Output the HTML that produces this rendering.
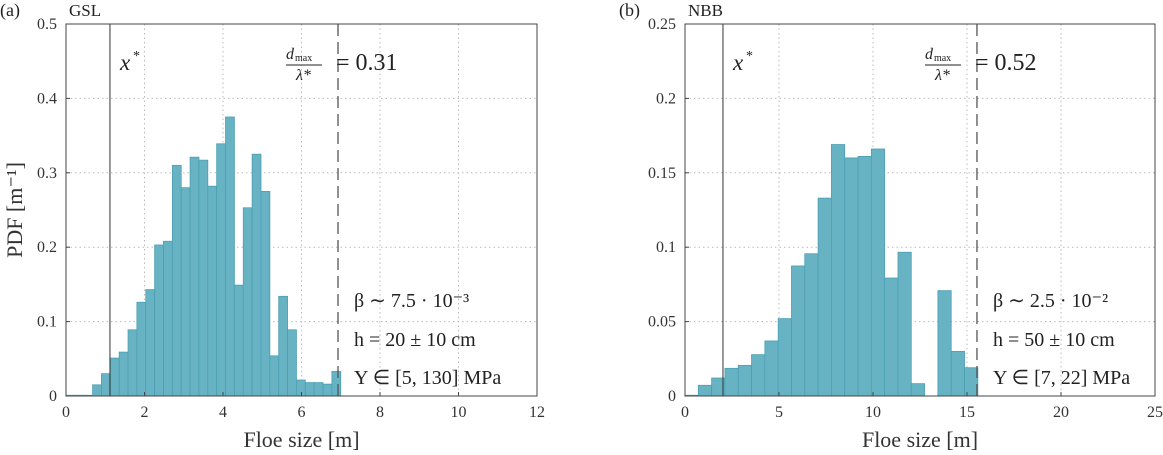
<!DOCTYPE html>
<html><head><meta charset="utf-8"><style>
body{margin:0;background:#fff;}
svg{display:block;font-family:"Liberation Serif",serif;}
</style></head><body>
<svg id="fig" width="1163" height="455"></svg>
<script>
const gslBins = 31;
const gslMax = 7.0;
const gslValues = [0.001,0.001,0.001,0.015,0.030,0.051,0.059,0.089,0.126,0.143,0.203,0.208,0.310,0.280,0.321,0.317,0.282,0.339,0.375,0.149,0.253,0.325,0.275,0.054,0.134,0.089,0.0215,0.018,0.018,0.016,0.033];
const gslXTicks = [0,2,4,6,8,10,12];
const gslYTicks = [0,0.1,0.2,0.3,0.4,0.5];
const nbbBinWidth = 0.708;
const nbbValues = [0.0005,0.0072,0.0121,0.0186,0.0206,0.0278,0.037,0.052,0.0874,0.0956,0.133,0.169,0.160,0.161,0.166,0.0793,0.0966,0.0083,0,0.0708,0.030,0.019];
const nbbXTicks = [0,5,10,15,20,25];
const nbbYTicks = [0,0.05,0.1,0.15,0.2,0.25];
const NS="http://www.w3.org/2000/svg";
const svg=document.getElementById('fig');
function el(tag,attrs,parent,text){const e=document.createElementNS(NS,tag);for(const k in attrs)e.setAttribute(k,attrs[k]);if(text!==undefined)e.textContent=text;(parent||svg).appendChild(e);return e;}
function panel(o){
  const g=el('g',{});
  
  
  const X=v=>o.x0+(v-o.xmin)/(o.xmax-o.xmin)*(o.x1-o.x0);
  const Y=v=>o.y0-(v/o.ymax)*(o.y0-o.y1);
  o.xt.forEach(t=>{if(t>o.xmin&&t<o.xmax){const l=el('line',{x1:X(t),x2:X(t),y1:o.y1,y2:o.y0,stroke:'#bbb','stroke-dasharray':'1.5 3'},g);}});
  o.yt.forEach(t=>{if(t>0&&t<o.ymax){const l=el('line',{x1:o.x0,x2:o.x1,y1:Y(t),y2:Y(t),stroke:'#bbb','stroke-dasharray':'1.5 3'},g);}});
  o.vals.forEach((v,i)=>{const a=X(i*o.bw),b=X((i+1)*o.bw);
    const r=el('rect',{x:a,y:Y(v),width:b-a,height:Y(0)-Y(v),fill:'#67b3c3',stroke:'#4b9fb3','stroke-width':0.8},g);
    });
  const xs=el('line',{x1:X(o.xstar),x2:X(o.xstar),y1:o.y1,y2:o.y0,stroke:'#333','stroke-width':1},g);
  
  const dm=el('line',{x1:X(o.dmax),x2:X(o.dmax),y1:o.y1,y2:o.y0,stroke:'#555','stroke-width':1.3,'stroke-dasharray':'12 6'},g);
  
  const bx=el('rect',{x:o.x0,y:o.y1,width:o.x1-o.x0,height:o.y0-o.y1,fill:'none',stroke:'#444','stroke-width':1},g);
  
  o.xt.forEach(t=>{el('line',{x1:X(t),x2:X(t),y1:o.y0,y2:o.y0-4,stroke:'#444'},g);
    const tx=el('text',{x:X(t),y:o.y0+21,'text-anchor':'middle','font-size':16,fill:'#333'},g,String(t));
    });
  o.yt.forEach(t=>{el('line',{x1:o.x0,x2:o.x0+4,y1:Y(t),y2:Y(t),stroke:'#444'},g);
    const tx=el('text',{x:o.x0-9,y:Y(t)+5,'text-anchor':'end','font-size':16,fill:'#333'},g,String(t));
    });
  const xl=el('text',{x:(o.x0+o.x1)/2,y:447,'text-anchor':'middle','font-size':22,fill:'#333'},g,'Floe size [m]');
  
  const pl=el('text',{x:o.x0-66,y:16,'font-size':18,fill:'#222'},g,o.letter);
  
  const sl=el('text',{x:o.x0+3,y:16,'font-size':17,fill:'#222'},g,o.site);
  
  const xsl=el('text',{x:X(o.xstar)+10,y:70,'font-size':23,'font-style':'italic',fill:'#222'},g,'x');
  
  el('text',{x:X(o.xstar)+23,y:60,'font-size':14,fill:'#222'},g,'*');
  const fx=X(o.dmax)-52;
  const fr=el('g',{},g);
  el('text',{x:fx,y:59,'font-size':16,'font-style':'italic',fill:'#222'},fr,'d');
  el('text',{x:fx+9,y:61,'font-size':10,fill:'#222'},fr,'max');
  el('line',{x1:fx,x2:fx+36,y1:65,y2:65,stroke:'#222'},fr);
  el('text',{x:fx+10,y:80,'font-size':16,'font-style':'italic',fill:'#222'},fr,'λ*');
  el('text',{x:fx+50,y:70,'font-size':24,fill:'#222'},fr,'= '+o.ratio);
  const tx0=X(o.dmax)+16;
  [[o.beta,307],[o.h,346],[o.Y,384]].forEach(([t,y])=>{const e=el('text',{x:tx0,y:y,'font-size':20,fill:'#222'},g,t);});
}
panel({name:'panel-gsl',x0:66,x1:537,y0:396,y1:24,xmin:0,xmax:12,ymax:0.5,vals:gslValues,bw:gslMax/gslBins,xt:gslXTicks,yt:gslYTicks,xstar:1.12,dmax:6.93,letter:'(a)',site:'GSL',ratio:'0.31',beta:'β ∼ 7.5 · 10⁻³',h:'h = 20 ± 10 cm',Y:'Y ∈ [5, 130] MPa'});
panel({name:'panel-nbb',x0:685,x1:1155,y0:396,y1:24,xmin:0,xmax:25,ymax:0.25,vals:nbbValues,bw:nbbBinWidth,xt:nbbXTicks,yt:nbbYTicks,xstar:2.02,dmax:15.53,letter:'(b)',site:'NBB',ratio:'0.52',beta:'β ∼ 2.5 · 10⁻²',h:'h = 50 ± 10 cm',Y:'Y ∈ [7, 22] MPa'});
const yl=el('text',{x:0,y:0,transform:'translate(22,210) rotate(-90)','text-anchor':'middle','font-size':22,fill:'#333'},svg,'PDF [m⁻¹]');


</script>
</body></html>
